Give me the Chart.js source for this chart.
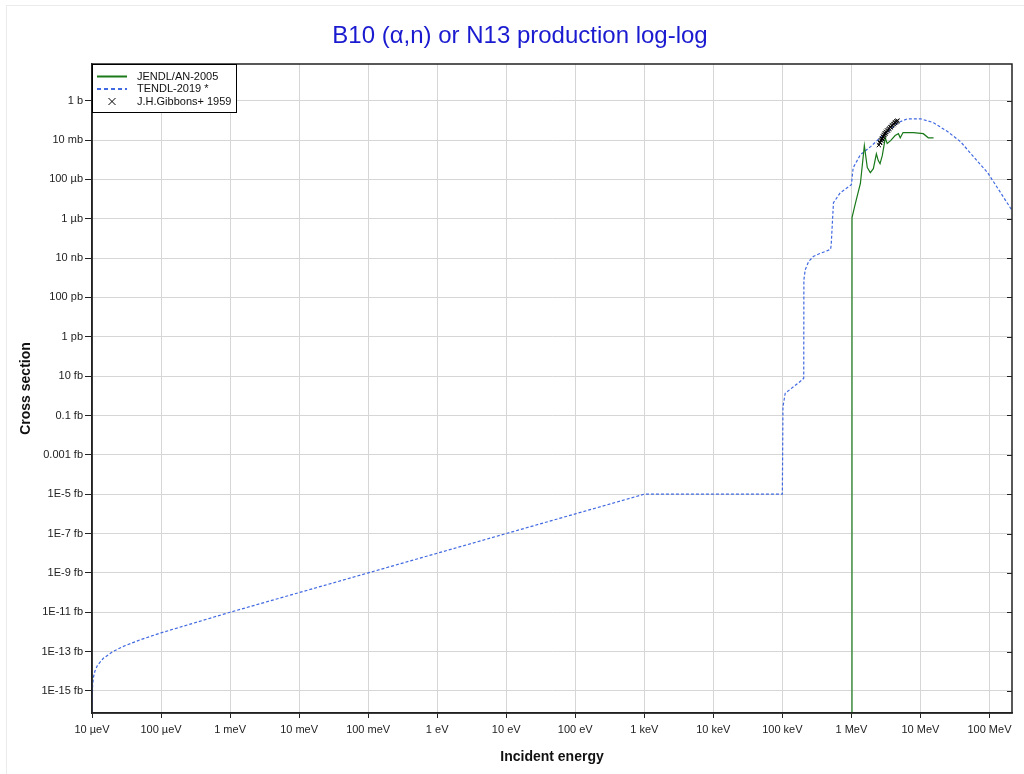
<!DOCTYPE html>
<html>
<head>
<meta charset="utf-8">
<script src="https://cdn.jsdelivr.net/npm/chart.js@4.4.1/dist/chart.umd.min.js"></script>
<style>
  html, body { margin: 0; padding: 0; background: #fff; }
  #wrap { width: 1024px; height: 774px; }
</style>
</head>
<body>
<div id="wrap"><canvas id="c" width="1024" height="774"></canvas></div>
<script>
// energies in eV, cross sections in barn
const tendlE = [1e-5, 1.02e-5, 1.05e-5, 1.1e-5, 1.2e-5, 1.46e-5, 2e-5, 2.84e-5, 5e-5, 1e-4, 1e-3, 1e-2, 1e-1, 1, 10, 100, 1e3,
  1e5, 1.02e5, 1.1e5, 1.45e5, 1.93e5, 2.04e5, 2.05e5, 2.14e5, 2.4e5, 2.8e5, 3.36e5, 5e5, 5.1e5, 5.5e5, 6.9e5, 1.0e6, 1.06e6,
  1.35e6, 1.9e6, 2.6e6, 3.3e6, 4.7e6, 6.5e6, 1e7, 1.55e7, 2.5e7, 3.8e7, 5.9e7, 9.4e7, 1.45e8, 2.1e8];
const tendlXS = [8e-32, 2e-30, 5e-30, 1e-29, 2e-29, 4.6e-29, 1e-28, 1.84e-28, 4e-28, 9e-28, 1e-26, 1e-25, 1e-24, 1e-23, 1e-22, 1e-21, 1e-20,
  1e-20, 2.8e-16, 1.35e-15, 2.9e-15, 6.4e-15, 7.9e-15, 7.8e-10, 2.5e-9, 6.6e-9, 1.2e-8, 1.6e-8, 2.8e-8, 4.8e-8, 6.5e-6, 2.1e-5, 5.4e-5, 3.9e-4,
  1.8e-3, 4.6e-3, 1.3e-2, 2.4e-2, 7.6e-2, 0.12, 0.12, 0.076, 0.026, 8.3e-3, 1.4e-3, 2.2e-4, 2.1e-5, 2.8e-6];

const jendlE = [1.02e6, 1.021e6, 1.14e6, 1.35e6, 1.54e6, 1.7e6, 1.88e6, 2.08e6, 2.3e6, 2.45e6, 2.6e6, 2.8e6, 3.1e6, 3.3e6,
  3.7e6, 4.3e6, 4.8e6, 5.1e6, 5.6e6, 7.9e6, 1.1e7, 1.3e7, 1.55e7];
const jendlXS = [1e-40, 1.15e-6, 5.9e-6, 6.2e-5, 5.2e-3, 4e-4, 2.2e-4, 3.5e-4, 2e-3, 9e-4, 6.3e-4, 1.6e-3, 1.3e-2, 6.6e-3,
  9.3e-3, 1.7e-2, 2.1e-2, 1.3e-2, 2.4e-2, 2.4e-2, 2.1e-2, 1.3e-2, 1.3e-2];

const gibbonsE = [2.5e6, 2.58e6, 2.62e6, 2.68e6, 2.72e6, 2.76e6, 2.82e6, 2.86e6, 2.9e6, 2.96e6, 3.0e6, 3.06e6, 3.1e6, 3.16e6, 3.22e6,
  3.3e6, 3.38e6, 3.46e6, 3.55e6, 3.66e6, 3.75e6, 3.86e6, 3.95e6, 4.06e6, 4.15e6, 4.26e6, 4.36e6, 4.46e6, 4.56e6, 4.66e6];
const gibbonsXS = [5.5e-3, 7.2e-3, 7.8e-3, 9.5e-3, 1.0e-2, 1.15e-2, 1.2e-2, 1.45e-2, 1.5e-2, 1.75e-2, 1.85e-2, 2.15e-2, 2.15e-2, 2.5e-2, 2.55e-2,
  3.0e-2, 3.1e-2, 3.6e-2, 3.8e-2, 4.4e-2, 4.7e-2, 5.4e-2, 5.7e-2, 6.5e-2, 6.7e-2, 7.6e-2, 7.9e-2, 8.8e-2, 8.9e-2, 9.6e-2];

const xTicks = [1e-5, 1e-4, 1e-3, 1e-2, 1e-1, 1, 10, 100, 1e3, 1e4, 1e5, 1e6, 1e7, 1e8];
const xTickLabels = ['10 µeV', '100 µeV', '1 meV', '10 meV', '100 meV', '1 eV', '10 eV', '100 eV', '1 keV', '10 keV', '100 keV', '1 MeV', '10 MeV', '100 MeV'];
const yTicks = [1, 1e-2, 1e-4, 1e-6, 1e-8, 1e-10, 1e-12, 1e-14, 1e-16, 1e-18, 1e-20, 1e-22, 1e-24, 1e-26, 1e-28, 1e-30];
const yTickLabels = ['1 b', '10 mb', '100 µb', '1 µb', '10 nb', '100 pb', '1 pb', '10 fb', '0.1 fb', '0.001 fb', '1E-5 fb', '1E-7 fb', '1E-9 fb', '1E-11 fb', '1E-13 fb', '1E-15 fb'];

const FONT = 'Liberation Sans, Arial, sans-serif';
const TITLE = 'B10 (α,n) or N13 production log-log';
const pairs = (xs, ys) => xs.map((x, i) => ({ x, y: ys[i] }));

const legendItems = [
  { text: 'JENDL/AN-2005', kind: 'line', color: '#1a7a1a', dash: [] },
  { text: 'TENDL-2019 *', kind: 'line', color: '#4169e1', dash: [4, 3] },
  { text: 'J.H.Gibbons+ 1959', kind: 'cross', color: '#000' }
];

const framePlugin = {
  id: 'frame',
  beforeDraw(chart) {
    const ctx = chart.ctx;
    ctx.save();
    ctx.fillStyle = '#fff';
    ctx.fillRect(0, 0, chart.width, chart.height);
    ctx.strokeStyle = '#ebebeb';
    ctx.lineWidth = 1;
    ctx.strokeRect(6.5, 5.5, 1040, 800);
    // title
    ctx.fillStyle = '#1a1ad0';
    ctx.font = '24px ' + FONT;
    ctx.textAlign = 'center';
    ctx.textBaseline = 'alphabetic';
    ctx.fillText(TITLE, 520, 43);
    ctx.restore();
  },
  afterDraw(chart) {
    const ctx = chart.ctx, a = chart.chartArea, ys = chart.scales.y;
    ctx.save();
    // box around plot
    ctx.strokeStyle = '#222';
    ctx.lineWidth = 1.5;
    ctx.strokeRect(a.left, a.top, a.right - a.left, a.bottom - a.top);
    // right side ticks
    ctx.lineWidth = 1;
    yTicks.forEach(v => {
      const py = Math.round(ys.getPixelForValue(v)) + 0.5;
      ctx.beginPath();
      ctx.moveTo(a.right - 5, py);
      ctx.lineTo(a.right, py);
      ctx.stroke();
    });
    // legend
    const lx = a.left, ly = a.top, lw = 144, lh = 48;
    ctx.fillStyle = '#fff';
    ctx.fillRect(lx, ly, lw, lh);
    ctx.strokeStyle = '#000';
    ctx.lineWidth = 1;
    ctx.strokeRect(lx + 0.5, ly + 0.5, lw, lh);
    ctx.font = '11px ' + FONT;
    ctx.textBaseline = 'middle';
    legendItems.forEach((it, i) => {
      const cy = ly + 12.5 + i * 12.5;
      ctx.strokeStyle = it.color;
      if (it.kind === 'line') {
        ctx.lineWidth = 2;
        ctx.setLineDash(it.dash);
        ctx.beginPath();
        ctx.moveTo(lx + 5, cy);
        ctx.lineTo(lx + 35, cy);
        ctx.stroke();
        ctx.setLineDash([]);
      } else {
        ctx.lineWidth = 1;
        const cx = lx + 20;
        ctx.beginPath();
        ctx.moveTo(cx - 3.5, cy - 3.5); ctx.lineTo(cx + 3.5, cy + 3.5);
        ctx.moveTo(cx + 3.5, cy - 3.5); ctx.lineTo(cx - 3.5, cy + 3.5);
        ctx.stroke();
      }
      ctx.fillStyle = '#111';
      ctx.fillText(it.text, lx + 45, cy);
    });
    ctx.restore();
  }
};

new Chart(document.getElementById('c'), {
  type: 'scatter',
  data: {
    datasets: [
      {
        label: 'J.H.Gibbons+ 1959',
        data: pairs(gibbonsE, gibbonsXS),
        pointStyle: 'crossRot',
        radius: 3,
        borderColor: '#000',
        borderWidth: 1,
        showLine: false
      },
      {
        label: 'JENDL/AN-2005',
        data: pairs(jendlE, jendlXS),
        showLine: true,
        borderColor: '#1a7a1a',
        borderWidth: 1.2,
        pointRadius: 0,
        tension: 0
      },
      {
        label: 'TENDL-2019 *',
        data: pairs(tendlE, tendlXS),
        showLine: true,
        borderColor: '#4169e1',
        borderWidth: 1.2,
        borderDash: [3, 2],
        pointRadius: 0,
        tension: 0
      }
    ]
  },
  options: {
    responsive: false,
    animation: false,
    layout: { padding: { left: 16, right: 12, top: 64, bottom: 0 } },
    plugins: {
      legend: { display: false },
      tooltip: { enabled: false },
      title: { display: false }
    },
    scales: {
      x: {
        type: 'logarithmic',
        min: 1e-5,
        max: 2.12e8,
        afterBuildTicks: s => { s.ticks = xTicks.map(v => ({ value: v })); },
        afterFit: s => { s.height = 61; },
        ticks: {
          autoSkip: false, maxRotation: 0, padding: 5, color: '#222',
          font: { family: FONT, size: 11 },
          callback: (v, i) => xTickLabels[i]
        },
        grid: { color: '#d6d6d6', lineWidth: 1, tickColor: '#222', tickLength: 5 },
        border: { color: '#222', width: 1.5 },
        title: {
          display: true, text: 'Incident energy', color: '#111',
          font: { family: FONT, size: 14, weight: 'bold' },
          padding: { top: 4, bottom: 8 }
        }
      },
      y: {
        type: 'logarithmic',
        min: 7.6e-32,
        max: 73,
        afterBuildTicks: s => { s.ticks = yTicks.map(v => ({ value: v })); },
        afterFit: s => { s.width = 76; },
        ticks: {
          autoSkip: false, padding: 2, color: '#222',
          font: { family: FONT, size: 11 },
          callback: (v, i) => yTickLabels[i]
        },
        grid: { color: '#d6d6d6', lineWidth: 1, tickColor: '#222', tickLength: 7 },
        border: { color: '#222', width: 1.5 },
        title: {
          display: true, text: 'Cross section', color: '#111',
          font: { family: FONT, size: 14, weight: 'bold' },
          padding: { top: 2, bottom: 0 }
        }
      }
    }
  },
  plugins: [framePlugin]
});
</script>
</body>
</html>
